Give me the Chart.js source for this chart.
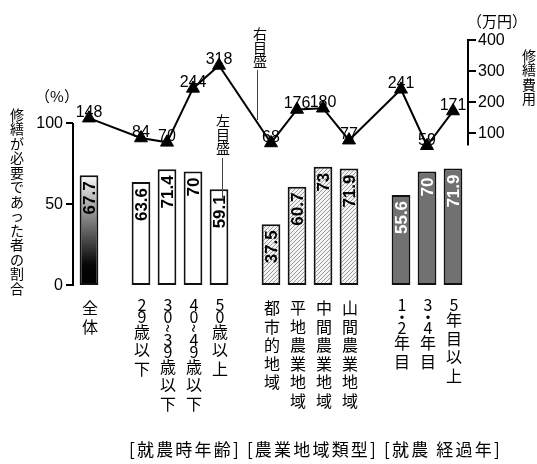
<!DOCTYPE html>
<html>
<head>
<meta charset="utf-8">
<script src="https://cdn.jsdelivr.net/npm/chart.js@4.4.1/dist/chart.umd.min.js"></script>
<style>
  html, body { margin: 0; padding: 0; background: #fff; }
  canvas { display: block; }
</style>
</head>
<body>
<canvas id="chart" width="537" height="464"></canvas>
<script>
// '' = spacer slot between groups
const categories = ['全体', '', '29歳以下', '30~39歳以下', '40~49歳以下', '50歳以上', '',
  '都市的地域', '平地農業地域', '中間農業地域', '山間農業地域', '',
  '1・2年目', '3・4年目', '5年目以上'];
const shareValues = [67.7, null, 63.6, 71.4, 70, 59.1, null, 37.5, 60.7, 73, 71.9, null, 55.6, 70, 71.9];
const costValues = [148, null, 84, 70, 244, 318, null, 68, 176, 180, 77, null, 241, 59, 171];
const leftTicks = [0, 50, 100];
const rightTicks = [100, 200, 300, 400];
const groupTitle = '[就農時年齢] [農業地域類型] [就農 経過年]';

const JP = '"Noto Sans CJK JP", "Noto Sans", sans-serif';
const NUM = '"Liberation Sans", Arial, sans-serif';

// hatch for the farm-area group
function makeHatch() {
  const c = document.createElement('canvas');
  c.width = 4; c.height = 4;
  const g = c.getContext('2d');
  g.fillStyle = '#f4f4f4';
  g.fillRect(0, 0, 4, 4);
  g.strokeStyle = '#9a9a9a';
  g.lineWidth = 1;
  g.beginPath();
  g.moveTo(0, 4); g.lineTo(4, 0);
  g.moveTo(-1, 1); g.lineTo(1, -1);
  g.moveTo(3, 5); g.lineTo(5, 3);
  g.stroke();
  return g.createPattern(c, 'repeat');
}
const hatch = makeHatch();

function barFill(context) {
  const i = context.dataIndex;
  if (i === 0) {
    const chart = context.chart;
    const y = chart.scales.y;
    if (!chart.chartArea || !y) return '#666';
    const top = y.getPixelForValue(shareValues[0]);
    const bottom = y.getPixelForValue(0);
    if (!Number.isFinite(top) || !Number.isFinite(bottom)) return '#666';
    const gr = chart.ctx.createLinearGradient(0, bottom, 0, top);
    gr.addColorStop(0, '#000');
    gr.addColorStop(0.18, '#040404');
    gr.addColorStop(1, '#fafafa');
    return gr;
  }
  if (i <= 5) return '#ffffff';
  if (i <= 10) return hatch;
  return '#717171';
}

// stacked (upright) vertical text
function vtext(ctx, str, x, y, full, half) {
  let cy = y;
  for (const ch of str) {
    const isHalf = /[0-9~・]/.test(ch);
    const step = isHalf ? half : full;
    const mid = cy + step / 2;
    if (ch === '~') {
      ctx.save();
      ctx.translate(x, mid);
      ctx.rotate(Math.PI / 2);
      ctx.fillText(ch, 0, 0);
      ctx.restore();
    } else {
      ctx.fillText(ch, x, mid);
    }
    cy += step;
  }
}

const decor = {
  id: 'decor',
  afterDatasetsDraw(chart) {
    const ctx = chart.ctx;
    const xs = chart.scales.x, yl = chart.scales.y, yr = chart.scales.y1;
    ctx.save();
    ctx.fillStyle = '#000';
    ctx.strokeStyle = '#000';

    // left axis
    const lx = chart.chartArea.left - 3;
    ctx.lineWidth = 2;
    ctx.beginPath();
    ctx.moveTo(lx, yl.getPixelForValue(100));
    ctx.lineTo(lx, yl.getPixelForValue(0) + 1);
    leftTicks.forEach(v => {
      const p = yl.getPixelForValue(v);
      ctx.moveTo(lx - 7, p); ctx.lineTo(lx, p);
    });
    ctx.stroke();
    ctx.font = '16px ' + NUM;
    ctx.textAlign = 'right';
    ctx.textBaseline = 'middle';
    leftTicks.forEach(v => ctx.fillText(String(v), lx - 10, yl.getPixelForValue(v) + 1));

    // right axis
    const rx = chart.chartArea.right + 2;
    ctx.beginPath();
    ctx.moveTo(rx, yr.getPixelForValue(400) - 1);
    ctx.lineTo(rx, yr.getPixelForValue(60));
    rightTicks.forEach(v => {
      const p = yr.getPixelForValue(v);
      ctx.moveTo(rx, p); ctx.lineTo(rx + 8, p);
    });
    ctx.stroke();
    ctx.textAlign = 'left';
    rightTicks.forEach(v => ctx.fillText(String(v), rx + 10, yr.getPixelForValue(v) + 1));

    // bar value labels, rotated
    const bars = chart.getDatasetMeta(1);
    ctx.font = 'bold 17px ' + NUM;
    bars.data.forEach((el, i) => {
      const v = shareValues[i];
      if (v == null) return;
      ctx.save();
      ctx.fillStyle = i >= 12 ? '#fff' : '#000';
      ctx.translate(el.x, el.y + 6);
      ctx.rotate(-Math.PI / 2);
      ctx.textAlign = 'right';
      ctx.textBaseline = 'middle';
      ctx.fillText(String(v), 0, 1);
      ctx.restore();
    });

    // line value labels
    const pts = chart.getDatasetMeta(0);
    ctx.font = '16px ' + NUM;
    ctx.textAlign = 'center';
    ctx.textBaseline = 'alphabetic';
    pts.data.forEach((el, i) => {
      const v = costValues[i];
      if (v == null) return;
      ctx.fillText(String(v), el.x, el.y - 1);
    });

    // category labels
    ctx.font = '16px ' + JP;
    ctx.textAlign = 'center';
    ctx.textBaseline = 'middle';
    categories.forEach((c, i) => {
      if (!c) return;
      vtext(ctx, c, xs.getPixelForValue(i) + 1, 299, 18.5, 11.7);
    });

    // axis titles and units
    ctx.font = '14px ' + JP;
    vtext(ctx, '修繕が必要であった者の割合', 17, 107, 14.5, 14.5);
    vtext(ctx, '修繕費用', 529, 48, 14.5, 14.5);
    ctx.font = '15px ' + JP;
    ctx.fillText('（%）', 57, 96);
    ctx.fillText('（万円）', 497, 21);

    // scale annotations
    ctx.font = '14px ' + JP;
    vtext(ctx, '右目盛', 260, 27, 13.5, 13.5);
    vtext(ctx, '左目盛', 223, 114, 13.5, 13.5);
    ctx.lineWidth = 1;
    ctx.strokeStyle = '#444';
    ctx.beginPath();
    ctx.moveTo(257.5, 70); ctx.lineTo(257.5, 120);
    ctx.moveTo(222.5, 158); ctx.lineTo(222.5, 198);
    ctx.stroke();

    // group titles
    ctx.fillStyle = '#000';
    ctx.font = '17px ' + JP;
    ctx.letterSpacing = '2.2px';
    ctx.textAlign = 'left';
    ctx.fillText(groupTitle, 129, 450);
    ctx.restore();
  }
};

new Chart(document.getElementById('chart'), {
  data: {
    labels: categories,
    datasets: [
      {
        type: 'line',
        order: 0,
        yAxisID: 'y1',
        data: costValues,
        spanGaps: true,
        borderColor: '#000',
        borderWidth: 2,
        pointStyle: 'triangle',
        pointRadius: 7.5,
        pointBackgroundColor: '#000',
        pointBorderColor: '#000',
        pointBorderWidth: 1
      },
      {
        type: 'bar',
        order: 1,
        yAxisID: 'y',
        data: shareValues,
        backgroundColor: barFill,
        borderColor: '#111',
        borderWidth: 2,
        borderSkipped: false,
        categoryPercentage: 1,
        barPercentage: 0.72
      }
    ]
  },
  options: {
    responsive: false,
    animation: false,
    devicePixelRatio: 1,
    layout: { padding: { left: 76, right: 71, top: 30, bottom: 179 } },
    plugins: { legend: { display: false }, tooltip: { enabled: false } },
    scales: {
      x: { type: 'category', offset: true, display: false },
      y: { min: 0, max: 157.4, display: false },
      y1: { min: -390, max: 432.3, display: false }
    }
  },
  plugins: [decor]
});
</script>
</body>
</html>
